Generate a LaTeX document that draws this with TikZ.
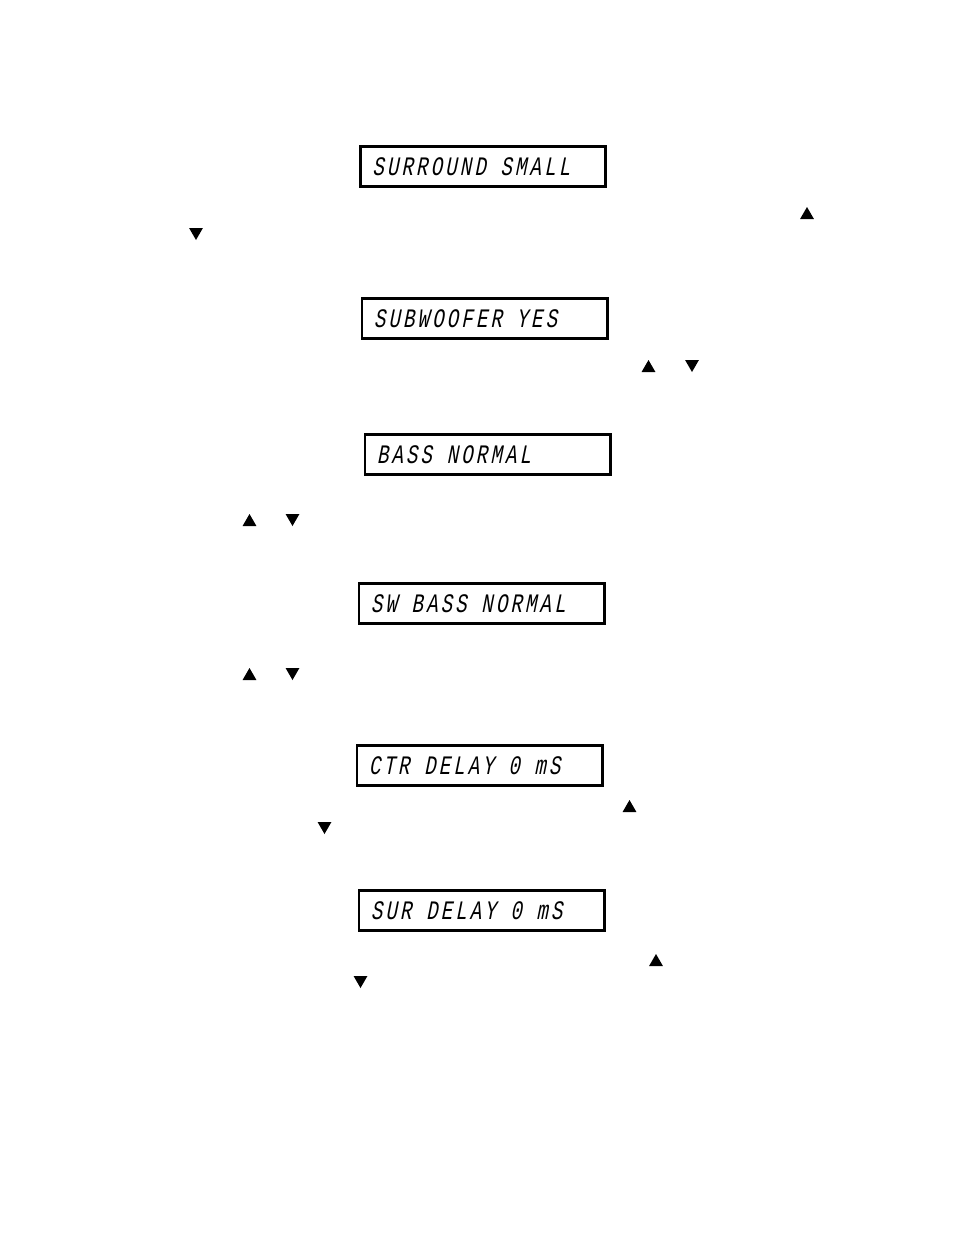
\documentclass[tikz,border=0pt]{standalone}
\usepackage{fontspec}
\usetikzlibrary{shapes}
\newfontfamily\lcdfont[FakeSlant=0.2,FakeStretch=0.72,LetterSpace=11.4]{Liberation Mono}
\newcommand{\lcdline}[1]{\makebox[166pt][l]{\lcdfont\fontsize{20pt}{22pt}\selectfont #1}}

\begin{document}
\begin{tikzpicture}[x=0.75pt,y=-0.75pt]
\fill[white] (0,0) rectangle (954,1235);
\useasboundingbox (0,0) rectangle (954,1235);
\begin{scope}
\tikzstyle{lcdbox}=[draw, line width=2pt, minimum width=184pt, minimum height=30pt, inner xsep=9pt, inner ysep=0pt];
\tikzstyle{upkey}=[regular polygon, regular polygon sides=3, fill=black, inner sep=0pt, minimum size=12pt];
\tikzstyle{downkey}=[upkey, shape border rotate=180];

\draw (483,166.5) node[lcdbox] (d1) {\lcdline{SURROUND SMALL}};
\draw (807,215) node[upkey] (u1) {};
\draw (196,232) node[downkey] (v1) {};

\draw (484.5,318.5) node[lcdbox] (d2) {\lcdline{SUBWOOFER YES}};
\draw (648.5,368) node[upkey] (u2) {};
\draw (692,364) node[downkey] (v2) {};

\draw (487.5,454.5) node[lcdbox] (d3) {\lcdline{BASS NORMAL}};
\draw (249.5,522) node[upkey] (u3) {};
\draw (292.5,518) node[downkey] (v3) {};

\draw (481.5,603.5) node[lcdbox] (d4) {\lcdline{SW BASS NORMAL}};
\draw (249.5,676) node[upkey] (u4) {};
\draw (292.5,672) node[downkey] (v4) {};

\draw (479.5,765.5) node[lcdbox] (d5) {\lcdline{CTR DELAY 0 mS}};
\draw (629.5,808) node[upkey] (u5) {};
\draw (324.5,826) node[downkey] (v5) {};

\draw (481.5,910.5) node[lcdbox] (d6) {\lcdline{SUR DELAY 0 mS}};
\draw (656,962) node[upkey] (u6) {};
\draw (360.5,980) node[downkey] (v6) {};
\end{scope}
\end{tikzpicture}
\end{document}
